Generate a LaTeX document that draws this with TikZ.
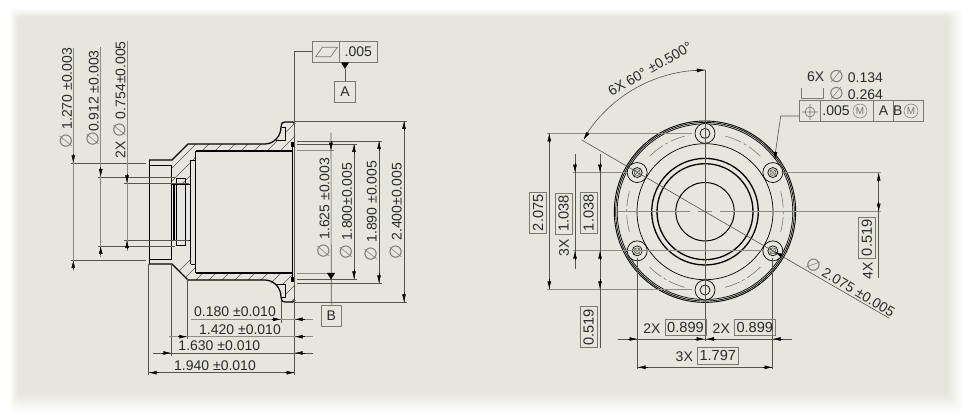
\documentclass[tikz,border=0pt]{standalone}
\usepackage{fontspec}
\setmainfont{Liberation Sans}
\newfontfamily\djfont{DejaVu Sans}
\usetikzlibrary{arrows.meta,calc}
\definecolor{panel}{HTML}{E6E6DE}
\definecolor{extgray}{HTML}{8C8C84}
\definecolor{symgray}{HTML}{77776F}
\definecolor{leadgray}{HTML}{55554F}
\definecolor{boxgray}{HTML}{7A7A72}
\definecolor{ink}{HTML}{2A2A2A}
\newcommand{\dia}{{\color{symgray}\djfont\fontsize{17}{14}\selectfont ∅}}
% half section outline: #1 = - (upper half) or + (lower half)
\newcommand{\halfsection}[1]{%
  \begin{scope}
    \clip (149,212#1 52) -- (172,212#1 52) -- (188,212#1 68) -- (265,212#1 68)
      -- (272,212#1 72) -- (285.7,212#1 72) -- (285.7,212#1 85) -- (282,212#1 85)
      -- (282,212#1 89) -- (285,212#1 90) -- (293,212#1 90) -- (295,212#1 88)
      -- (295,212#1 73) -- (292,212#1 70) -- (292,212#1 61) -- (195.7,212#1 61)
      -- (195.7,212#1 52) -- (190.7,212#1 52) -- (190.7,212#1 28) -- (172,212#1 28)
      -- (172,212#1 47) -- (149,212#1 47) -- cycle;
    \foreach \k in {0,...,14} {
      \draw[hatchline] ({145+13*\k},195) -- ({145+13*\k+75},120);
      \draw[hatchline] ({145+13*\k},305) -- ({145+13*\k+75},230);
    }
  \end{scope}
  \draw[obj] (149,212#1 52) -- (172,212#1 52) -- (188,212#1 68) -- (265,212#1 68)
     .. controls (274,212#1 68) and (281,212#1 76) .. (281,212#1 85)
     -- (282,212#1 89) -- (285,212#1 90) -- (293,212#1 90) -- (295,212#1 88);
  \draw[objthin] (281.7,212#1 85) -- (285.7,212#1 85) -- (285.7,212#1 72) -- (276,212#1 72);
  \draw[obj] (195.7,212#1 61) -- (292,212#1 61);
  \draw[objthin] (149,212#1 47) -- (171.7,212#1 47);
  \draw[objthin] (172,212#1 28) -- (190.7,212#1 28);
  \fill[black] (291,212#1 70) rectangle (295,212#1 65);
}
\tikzset{
  x=1pt,y=-1pt,
  obj/.style={line width=1.25pt,black,line join=round},
  objthin/.style={line width=0.85pt,black,line join=round},
  hatchline/.style={line width=0.5pt,leadgray},
  ext/.style={line width=0.9pt,extgray},
  dimline/.style={line width=0.6pt,leadgray},
  arr/.style={line width=0.5pt,black,-{Latex[length=8pt,width=3.8pt]}},
  centerln/.style={line width=0.6pt,symgray,dash pattern=on 17pt off 3pt on 3pt off 3pt},
  dimtext/.style={font=\fontsize{14}{14}\selectfont,inner sep=0pt,text=ink},
  hbox/.style={dimtext,font=\fontsize{14.6}{14}\selectfont,draw=boxgray,line width=0.7pt,minimum width=41pt,minimum height=16.5pt},
  vbox/.style={hbox,rotate=90},
  cell/.style={dimtext,draw=boxgray,line width=0.7pt,minimum height=21.4pt},
  mcirc/.style={circle,draw=symgray,line width=0.5pt,text=symgray,inner sep=0pt,minimum size=14pt,font=\fontsize{10}{10}\selectfont}
}
\begin{document}
\begin{tikzpicture}
\useasboundingbox (0,0) rectangle (974,419);
\fill[white] (0,0) rectangle (974,419);
% panel with soft shadow
\foreach \t in {12,11,...,0} {
  \pgfmathsetmacro{\mixv}{100-\t*100/12}
  \fill[panel!\mixv!white,rounded corners=5pt] ({18-0.7*\t},{17-0.7*\t}) rectangle ({948+1.3*\t},{394+1.7*\t});
}
%========== LEFT VIEW ==========
\halfsection{-}
\halfsection{+}
\draw[objthin] (149,160) -- (149,264);
\draw[obj] (171.7,165) -- (171.7,259);
\draw[obj] (174,184) -- (174,240);
\draw[objthin] (176.7,178) rectangle (185,245);
\draw[obj] (190.7,160) -- (190.7,264);
\draw[objthin] (190.7,160) -- (195.7,160) (190.7,264) -- (195.7,264);
\draw[obj] (195.7,151) -- (195.7,273);
\draw[objthin] (292,142) -- (292,282);
% extension lines, left
\draw[dimline] (71,163.3) -- (145.5,163.3);
\draw[dimline] (98,177) -- (175,177);
\draw[dimline] (124.3,183.4) -- (189,183.4);
\draw[dimline] (71,260) -- (145.5,260);
\draw[dimline] (98,246) -- (175,246);
\draw[dimline] (124.3,240) -- (189,240);
% dim lines left
\draw[ext] (73.3,48.3) -- (73.3,271);
\draw[ext] (100.7,47.3) -- (100.7,257);
\draw[ext] (127,41) -- (127,251);
\coordinate (a1) at (73.3,154); \coordinate (a1t) at (73.3,163.3);
\coordinate (a2) at (100.7,167.5); \coordinate (a2t) at (100.7,177);
\coordinate (a3) at (127,174); \coordinate (a3t) at (127,183.4);
\coordinate (a4) at (73.3,269.5); \coordinate (a4t) at (73.3,260);
\coordinate (a5) at (100.7,255.5); \coordinate (a5t) at (100.7,246);
\coordinate (a6) at (127,249.5); \coordinate (a6t) at (127,240);
\foreach \n in {1,...,6} \draw[arr] (a\n) -- (a\n t);
\node[dimtext,rotate=90] (d1270) at (66,98) {\dia\ 1.270 ±0.003};
\node[dimtext,rotate=90] (d0912) at (92.7,98.5) {\dia 0.912 ±0.003};
\node[dimtext,rotate=90] (d0754) at (119.3,100) {2X \dia\ 0.754±0.005};
% right side dims, left view
\draw[dimline] (295,121) -- (406.7,121);
\draw[dimline] (295,302.3) -- (406.7,302.3);
\draw[dimline] (297,141) -- (381.7,141);
\draw[dimline] (297,283.3) -- (381.7,283.3);
\draw[dimline] (297,144) -- (356.7,144);
\draw[dimline] (297,279.3) -- (356.7,279.3);
\draw[ext] (297,150.7) -- (334,150.7);
\draw[ext] (297,273) -- (335,273);
\draw[dimline] (404,121) -- (404,302.3);
\draw[dimline] (379,141) -- (379,283.3);
\draw[dimline] (354,144) -- (354,279.3);
\draw[arr] (404,131) -- (404,121); \draw[arr] (404,292) -- (404,302.3);
\draw[arr] (379,151) -- (379,141); \draw[arr] (379,273.5) -- (379,283.3);
\draw[arr] (354,154) -- (354,144); \draw[arr] (354,269.5) -- (354,279.3);
\node[dimtext,rotate=90] (d1625) at (323.3,208) {\dia\ 1.625 ±0.003};
\node[dimtext,rotate=90] (d1800) at (346,211) {\dia\ 1.800±0.005};
\node[dimtext,rotate=90] (d1890) at (370.7,211) {\dia\ 1.890 ±0.005};
\node[dimtext,rotate=90] (d2400) at (395.7,211) {\dia\ 2.400±0.005};
% datum B
\node[dimtext,draw=boxgray,line width=0.7pt,minimum width=20.7pt,minimum height=21pt] (datumB) at (331.3,315.5) {B};
\coordinate (bTop) at (331,132.7);
\draw[dimline] (bTop) -- (datumB.north);
\draw[arr] (331,141.5) -- (331,150.7);
\fill[black] (327,273) -- (335,273) -- (331,279.5) -- cycle;
% FCF A
\node[cell,minimum width=26.6pt] (fcfSym) at (326,51.7) {};
\node[cell,minimum width=38pt] (fcfVal) at (358.3,51.7) {.005};
\draw[symgray,line width=0.7pt] (315.7,56.7) -- (322.3,47.3) -- (337.3,47.3) -- (330.7,56.7) -- cycle;
\node[dimtext,draw=boxgray,line width=0.7pt,minimum width=21.4pt,minimum height=20.4pt] (datumA) at (345,91.8) {A};
\coordinate (triA) at (345,69);
\fill[black] (341,62.3) -- (349,62.3) -- (triA) -- cycle;
\draw[dimline] (triA) -- (datumA.north);
% long leader / reference line
\draw[dimline] (fcfSym.west) -- (294.7,51.7) -- (294.7,375);
% bottom dims
\draw[dimline] (281,301) -- (281,322.7);
\draw[dimline] (187.3,279) -- (187.3,339.3);
\draw[dimline] (171.3,263) -- (171.3,356);
\draw[dimline] (148.7,264) -- (148.7,375);
\draw[ext] (191,319.3) -- (313.3,319.3);
\draw[ext] (169.3,336.7) -- (313.3,336.7);
\draw[dimline,line width=0.8pt] (153.3,353) -- (313.3,353);
\draw[dimline] (148.7,372.7) -- (294.7,372.7);
\draw[arr] (271.5,319.3) -- (281,319.3); \draw[arr] (304.5,319.3) -- (294.7,319.3);
\draw[arr] (177.8,336.7) -- (187.3,336.7); \draw[arr] (304.5,336.7) -- (294.7,336.7);
\draw[arr] (161.8,353) -- (171.3,353); \draw[arr] (304.5,353) -- (294.7,353);
\draw[arr] (158.5,372.7) -- (148.7,372.7); \draw[arr] (285,372.7) -- (294.7,372.7);
\node[dimtext] (t180) at (235,312) {0.180 ±0.010};
\node[dimtext] (t1420) at (240,329.3) {1.420 ±0.010};
\node[dimtext] (t1630) at (219.3,346) {1.630 ±0.010};
\node[dimtext] (t1940) at (215,365.7) {1.940 ±0.010};
%========== RIGHT VIEW ==========
\coordinate (C) at (705,211.7);
\begin{scope}[shift={(705,211.7)}]
  \draw[line width=0.9pt,black] (0,0) circle[radius=90.7];
  \draw[line width=0.7pt,black] (0,0) circle[radius=89.3];
  \draw[line width=0.7pt,black] (0,0) circle[radius=87.8];
  \draw[line width=0.7pt,black] (0,0) circle[radius=68];
  \draw[line width=1.3pt,black] (0,0) circle[radius=53.3];
  \draw[line width=1.3pt,black] (0,0) circle[radius=48];
  \draw[line width=1pt,black] (0,0) circle[radius=29.2];
  \foreach \a in {30,90,150,210,270,330} {
    \draw[centerln] (\a+15:78.3) arc[start angle=\a+15,end angle=\a+45,radius=78.3];
    \fill[panel] (\a:78.3) circle[radius=10];
    \draw[line width=0.7pt,black] (\a:78.3) circle[radius=10];
    \draw[line width=0.7pt,black] (\a:78.3) circle[radius=5];
  }
  \foreach \a in {30,150,210,330} {
    \draw[line width=0.5pt,leadgray] (\a:78.3) circle[radius=3];
    \draw[line width=0.4pt,leadgray] ($(\a:78.3)+(-3.5,-3.5)$) -- ++(7,7);
    \draw[line width=0.4pt,leadgray] ($(\a:78.3)+(-3.5,3.5)$) -- ++(7,-7);
  }
\end{scope}
% centre lines
\draw[ext] (618,211.7) -- (690,211.7);
\draw[ext] (698,211.7) -- (712,211.7);
\draw[ext] (720,211.7) -- (881,211.7);
\draw[dimline] (705,70) -- (705,341);
% horizontal extension lines
\draw[ext] (546.7,133.3) -- (692,133.3);
\draw[ext] (572.7,172.7) -- (628,172.7);
\draw[ext] (572.7,250.7) -- (762,250.7);
\draw[ext] (546.7,289.3) -- (692,289.3);
\draw[ext] (783,172.7) -- (881,172.7);
% vertical extension lines
\draw[dimline] (637.5,258) -- (637.5,369.3);
\draw[dimline] (772.5,258) -- (772.5,369.3);
% left dims
\draw[dimline] (549.3,133.3) -- (549.3,289.3);
\draw[dimline] (575,154) -- (575,269.3);
\draw[dimline] (600,154) -- (600,347.7);
\draw[arr] (549.3,143) -- (549.3,133.3); \draw[arr] (549.3,279.5) -- (549.3,289.3);
\draw[arr] (575,163) -- (575,172.7); \draw[arr] (575,260.5) -- (575,250.7);
\draw[arr] (600,163) -- (600,172.7); \draw[arr] (600,260.5) -- (600,250.7);
\draw[arr] (600,279.5) -- (600,289.3);
\node[vbox] (b2075) at (538,212.8) {2.075};
\node[vbox] (b1038a) at (563.7,213.6) {1.038};
\node[dimtext,rotate=90] (t3xa) at (564,247.7) {3X};
\node[vbox] (b1038b) at (588.7,212.8) {1.038};
\node[vbox] (b0519a) at (588.7,327.2) {0.519};
% right dim
\draw[dimline] (878.7,172.7) -- (878.7,278);
\draw[arr] (878.7,182.5) -- (878.7,172.7); \draw[arr] (878.7,202) -- (878.7,211.7);
\node[vbox] (b0519b) at (866.8,237.8) {0.519};
\node[dimtext,rotate=90] (t4x) at (867.7,271) {4X};
% bottom dims
\draw[dimline] (618.3,339) -- (791.7,339);
\draw[dimline] (637.5,367.3) -- (772.5,367.3);
\draw[arr] (627.5,339) -- (637.5,339); \draw[arr] (695,339) -- (704.5,339);
\draw[arr] (715.5,339) -- (706,339); \draw[arr] (782.5,339) -- (772.5,339);
\draw[arr] (647.5,367.3) -- (637.5,367.3); \draw[arr] (762.5,367.3) -- (772.5,367.3);
\node[dimtext] (t2xa) at (652,328.3) {2X};
\node[hbox] (b0899a) at (685.5,327.3) {0.899};
\node[dimtext] (t2xb) at (721.3,328.3) {2X};
\node[hbox] (b0899b) at (754.8,327.3) {0.899};
\node[dimtext] (t3xb) at (684.3,356.7) {3X};
\node[hbox] (b1797) at (717.8,355.8) {1.797};
% angle dim
\draw[dimline] (705,70) arc[start angle=-90,end angle=-148.5,radius=141.7];
\draw[arr] (695,70.6) -- (705,70);
\draw[arr] (588.3,132) -- (583.6,140);
\node[dimtext,rotate=30] (t60) at (650,69) {6X 60° ±0.500°};
% diameter leader through centre
\draw[dimline] (581.7,140) -- (C) -- (889.3,318.3);
\draw[arr] (783,256.3) -- (774.5,251.6);
\node[dimtext,rotate=-31] (t2075) at (851,287) {\dia\ 2.075 ±0.005};
% hole callout
\node[dimtext] (t6x) at (815.7,76.7) {6X};
\node[dimtext] (t134) at (856,76.7) {\dia\ 0.134};
\node[dimtext] (t264) at (856,93.3) {\dia\ 0.264};
\draw[boxgray,line width=0.8pt] (801.7,87.7) -- (801.7,98.3) -- (823.3,98.3) -- (823.3,87.7);
\node[cell,minimum width=21pt] (cPos) at (810.2,111) {};
\node[cell,minimum width=52.6pt] (cTol) at (847,111) {};
\node[cell,minimum width=20.4pt] (cA) at (883.5,111) {A};
\node[cell,minimum width=30pt] (cB) at (908.7,111) {};
\node[dimtext] (t005) at (836,111) {.005};
\node[mcirc] (m1) at (860,111) {M};
\node[dimtext] (tB) at (897.7,111) {B};
\node[mcirc] (m2) at (911,111) {M};
\draw[symgray,line width=0.6pt] (810,112) circle[radius=5] (802,112) -- (818,112) (810,104) -- (810,120);
\coordinate (cTip) at (775,160);
\draw[dimline] ([yshift=-5pt]cPos.west) -- (780.7,116) -- (775.5,152);
\draw[arr] (775.6,151.5) -- (cTip);
\end{tikzpicture}
\end{document}
